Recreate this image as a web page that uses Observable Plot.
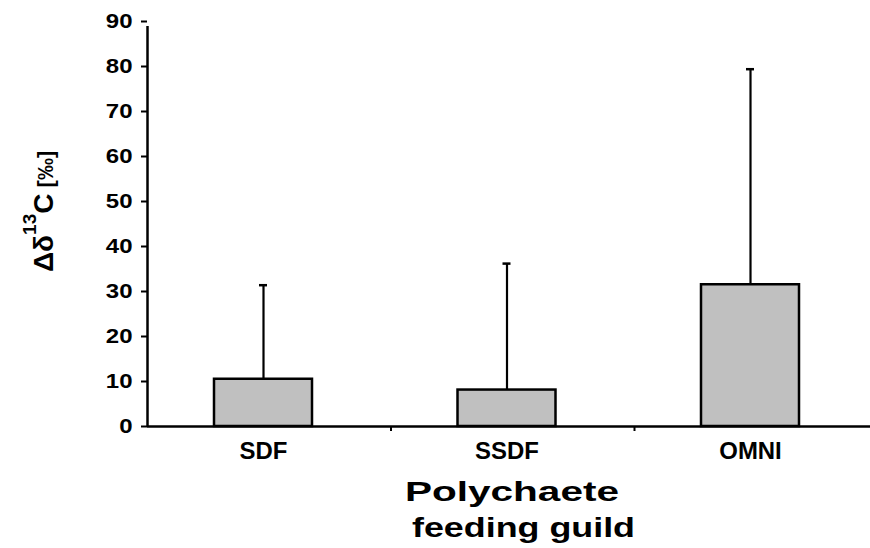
<!DOCTYPE html>
<html><head><meta charset="utf-8">
<script src="https://cdn.jsdelivr.net/npm/d3@7"></script>
<script src="https://cdn.jsdelivr.net/npm/@observablehq/plot@0.6"></script>
<style>body{margin:0;background:#fff;} svg{display:block}</style>
</head><body><div id="chart"></div>
<script>
const categories = ["SDF", "SSDF", "OMNI"];
const means = [10.5, 8.1, 31.5];
const upper = [31.4, 36.2, 79.4];
const yTicks = [0, 10, 20, 30, 40, 50, 60, 70, 80, 90];
const xTitle = ["Polychaete", "feeding guild"];
const yLabelMain = "Δδ", yLabelSup = "13", yLabelElem = "C", yLabelUnit = " [‰]";

const data = categories.map((c, i) => ({i, c, mean: means[i], up: upper[i]}));
const font = "'Liberation Sans', Arial, sans-serif";

const chart = Plot.plot({
  width: 870, height: 548,
  marginLeft: 147, marginRight: 0, marginTop: 21, marginBottom: 122,
  style: {fontFamily: font, background: "white", overflow: "visible", color: "black"},
  x: {type: "linear", domain: [0, 3], range: [147, 877.5]},
  y: {domain: [0, 90]},
  marks: [
    Plot.rectY(data, {x1: "i", x2: d => d.i + 1, y: "mean", insetLeft: 67, insetRight: 78.5, fill: "#c0c0c0", stroke: "black", strokeWidth: 2.5}),
    Plot.ruleX(data, {x: "i", dx: 116, y1: "mean", y2: "up", stroke: "black", strokeWidth: 2.2}),
    Plot.ruleY(data, {y: "up", x1: "i", x2: d => d.i + 1, insetLeft: 112, insetRight: 123.5, stroke: "black", strokeWidth: 2.5}),
    Plot.ruleY([0], {stroke: "black", strokeWidth: 2.5}),
    Plot.ruleX([0], {y1: 0, y2: 90, insetBottom: -5, stroke: "black", strokeWidth: 2.5}),
    Plot.axisY({ticks: yTicks, tickSize: 6, tickPadding: 9, fontSize: 20, stroke: "black", strokeWidth: 2, label: null, tickFormat: d => String(d)}),
    Plot.axisX({ticks: [1, 2], tickSize: 5, tickFormat: () => "", label: null, stroke: "black", strokeWidth: 2}),
    Plot.axisX({ticks: [0.5, 1.5, 2.5], tickSize: 0, tickPadding: 16, tickFormat: d => categories[Math.floor(d)], fontSize: 23, dx: -5.75, label: null})
  ]
});
document.getElementById("chart").appendChild(chart);

const svg = d3.select(chart);
svg.selectAll("text").attr("font-weight", "bold").attr("fill", "black");

// horizontal stretch of the tick labels to match the reference's wide glyphs
svg.selectAll('g[aria-label="y-axis tick label"] text').each(function() {
  const w = this.getComputedTextLength();
  if (w > 0) { this.setAttribute("textLength", w * 1.2); this.setAttribute("lengthAdjust", "spacingAndGlyphs"); }
});
svg.selectAll('g[aria-label="x-axis tick label"] text').each(function() {
  const w = this.getComputedTextLength();
  if (w > 0) { this.setAttribute("textLength", w * 1.04); this.setAttribute("lengthAdjust", "spacingAndGlyphs"); }
});

// y-axis label (rotated, with superscript)
const yl = svg.append("text")
  .attr("transform", "translate(53,272) rotate(-90)")
  .attr("text-anchor", "start")
  .attr("font-family", font).attr("font-weight", "bold").attr("font-size", 28).attr("fill", "black");
yl.append("tspan").text(yLabelMain);
yl.append("tspan").attr("font-size", 19).attr("dy", -17).text(yLabelSup);
yl.append("tspan").attr("dy", 17).text(yLabelElem);
yl.append("tspan").attr("font-size", 22).text(yLabelUnit);

// x-axis title, two lines
const titleCx = [512, 523.5], titleBase = [501, 537], titleW = [214, 223];
xTitle.forEach((t, k) => {
  svg.append("text")
    .attr("x", titleCx[k]).attr("y", titleBase[k])
    .attr("text-anchor", "middle")
    .attr("font-family", font).attr("font-weight", "bold").attr("font-size", 28).attr("fill", "black")
    .attr("textLength", titleW[k]).attr("lengthAdjust", "spacingAndGlyphs")
    .text(t);
});
</script>
</body></html>
